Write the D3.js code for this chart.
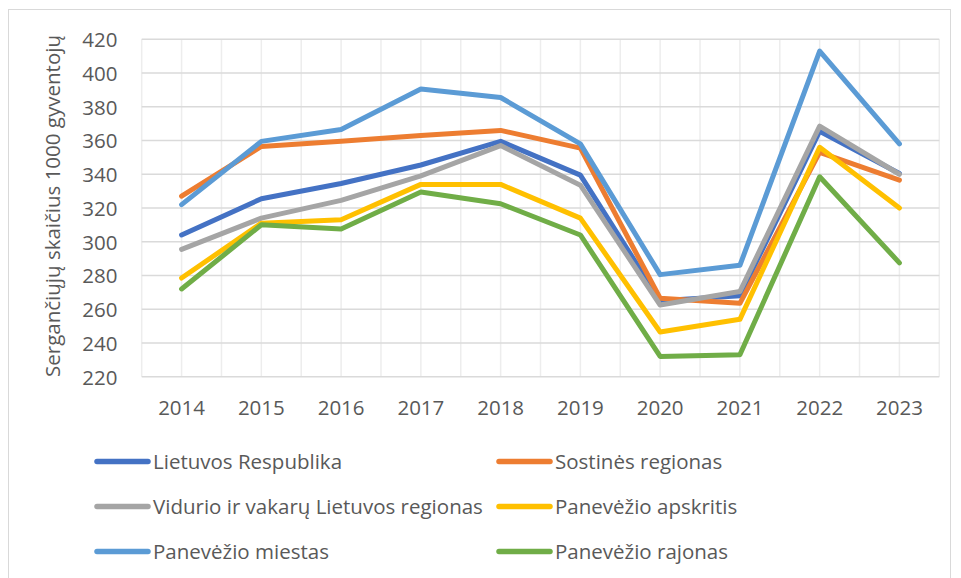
<!DOCTYPE html>
<html>
<head>
<meta charset="utf-8">
<script src="https://cdn.jsdelivr.net/npm/d3@7"></script>
<style>
  html, body { margin: 0; padding: 0; background: #fff; }
  svg { display: block; }
  text { font-family: "Open Sans", "Noto Sans", sans-serif; fill: #595959; }
</style>
</head>
<body>
<svg id="chart" width="961" height="578"></svg>
<script>
// Sergančiųjų skaičius 1000 gyventojų, 2014–2023
const years = ["2014", "2015", "2016", "2017", "2018", "2019", "2020", "2021", "2022", "2023"];
const yTicks = [220, 240, 260, 280, 300, 320, 340, 360, 380, 400, 420];
const yTitle = "Sergančiųjų skaičius 1000 gyventojų";

const seriesNames = [
  "Lietuvos Respublika",
  "Sostinės regionas",
  "Vidurio ir vakarų Lietuvos regionas",
  "Panevėžio apskritis",
  "Panevėžio miestas",
  "Panevėžio rajonas"
];
const lietuvosRespublika = [304, 325.5, 334.5, 345.5, 359.5, 339.5, 265, 268, 365.5, 340.5];
const sostinesRegionas   = [327, 356.5, 359.5, 363, 366, 355.5, 266.5, 263.5, 353, 336.5];
const viduriolRegionas   = [295.5, 314, 324.5, 339, 357, 333.5, 262.5, 270.5, 368.5, 340];
const panevezioApskritis = [278.5, 311, 313, 334, 334, 314, 246.5, 254, 356, 320];
const panevezioMiestas   = [322, 359.5, 366.5, 390.5, 385.5, 358, 280.5, 286, 413, 358];
const panevezioRajonas   = [272, 310, 307.5, 329.5, 322.5, 304, 232, 233, 338.5, 287.5];
const seriesColors = ["#4472C4", "#ED7D31", "#A5A5A5", "#FFC000", "#5B9BD5", "#70AD47"];

const seriesValues = [lietuvosRespublika, sostinesRegionas, viduriolRegionas,
                      panevezioApskritis, panevezioMiestas, panevezioRajonas];
const series = seriesNames.map((name, i) => ({
  name, color: seriesColors[i],
  values: seriesValues[i].map((v, j) => ({ year: years[j], value: v }))
}));

const svg = d3.select("#chart");
const plot = { left: 141.7, right: 939.3, top: 39.3, bottom: 376.7 };

const x = d3.scaleBand().domain(years).range([plot.left, plot.right]);
const y = d3.scaleLinear().domain([220, 420]).range([plot.bottom, plot.top]);

// outer chart frame
svg.append("rect")
  .attr("x", 8.5).attr("y", 9.5)
  .attr("width", 942).attr("height", 600)
  .attr("fill", "none").attr("stroke", "#d9d9d9").attr("stroke-width", 1);

// vertical gridlines: category boundaries and centres
const vLines = [];
years.forEach(yr => { vLines.push(x(yr)); vLines.push(x(yr) + x.bandwidth() / 2); });
vLines.push(plot.right);
svg.append("g").selectAll("line").data(vLines).join("line")
  .attr("x1", d => d).attr("x2", d => d)
  .attr("y1", plot.top).attr("y2", plot.bottom)
  .attr("stroke", "#ededed").attr("stroke-width", 1.5);

// horizontal gridlines
svg.append("g").selectAll("line").data(yTicks).join("line")
  .attr("x1", plot.left).attr("x2", plot.right)
  .attr("y1", d => y(d)).attr("y2", d => y(d))
  .attr("stroke", "#dadada").attr("stroke-width", 1.5);

// y axis labels
const yAxis = d3.axisLeft(y).tickValues(yTicks).tickSize(0).tickPadding(0);
const gy = svg.append("g").attr("transform", `translate(${117.5},0)`).call(yAxis);
gy.select(".domain").remove();
gy.selectAll("text")
  .attr("font-size", "20.5px").attr("fill", "#595959")
  .attr("font-family", "'Open Sans', sans-serif").attr("dy", "0.36em");

// x axis labels
const xAxis = d3.axisBottom(x).tickSize(0).tickPadding(0);
const gx = svg.append("g").attr("transform", `translate(0,${400})`).call(xAxis);
gx.select(".domain").remove();
gx.selectAll("text")
  .attr("font-size", "20.5px").attr("fill", "#595959")
  .attr("font-family", "'Open Sans', sans-serif").attr("dy", "0.72em");

// y axis title
svg.append("text")
  .attr("transform", `translate(${60},${(plot.top + plot.bottom) / 2 - 2}) rotate(-90)`)
  .attr("text-anchor", "middle")
  .attr("font-size", "20.5px")
  .text(yTitle);

// series lines
const line = d3.line()
  .x(d => x(d.year) + x.bandwidth() / 2)
  .y(d => y(d.value));

svg.append("g").selectAll("path").data(series).join("path")
  .attr("d", d => line(d.values))
  .attr("fill", "none")
  .attr("stroke", d => d.color)
  .attr("stroke-width", 5)
  .attr("stroke-linejoin", "round")
  .attr("stroke-linecap", "round");

// legend: two columns, three rows
const legendCols = [95, 497];
const legendRows = [461.5, 506.5, 551.5];
const lg = svg.append("g").selectAll("g").data(series).join("g")
  .attr("transform", (d, i) => `translate(${legendCols[i % 2]},${legendRows[Math.floor(i / 2)]})`);
lg.append("line")
  .attr("x1", 2).attr("x2", 53).attr("y1", 0).attr("y2", 0)
  .attr("stroke", d => d.color).attr("stroke-width", 5.5)
  .attr("stroke-linecap", "round");
lg.append("text")
  .attr("x", 58).attr("y", 0).attr("dy", "0.36em")
  .attr("font-size", "20.5px")
  .text(d => d.name);
</script>
</body>
</html>
